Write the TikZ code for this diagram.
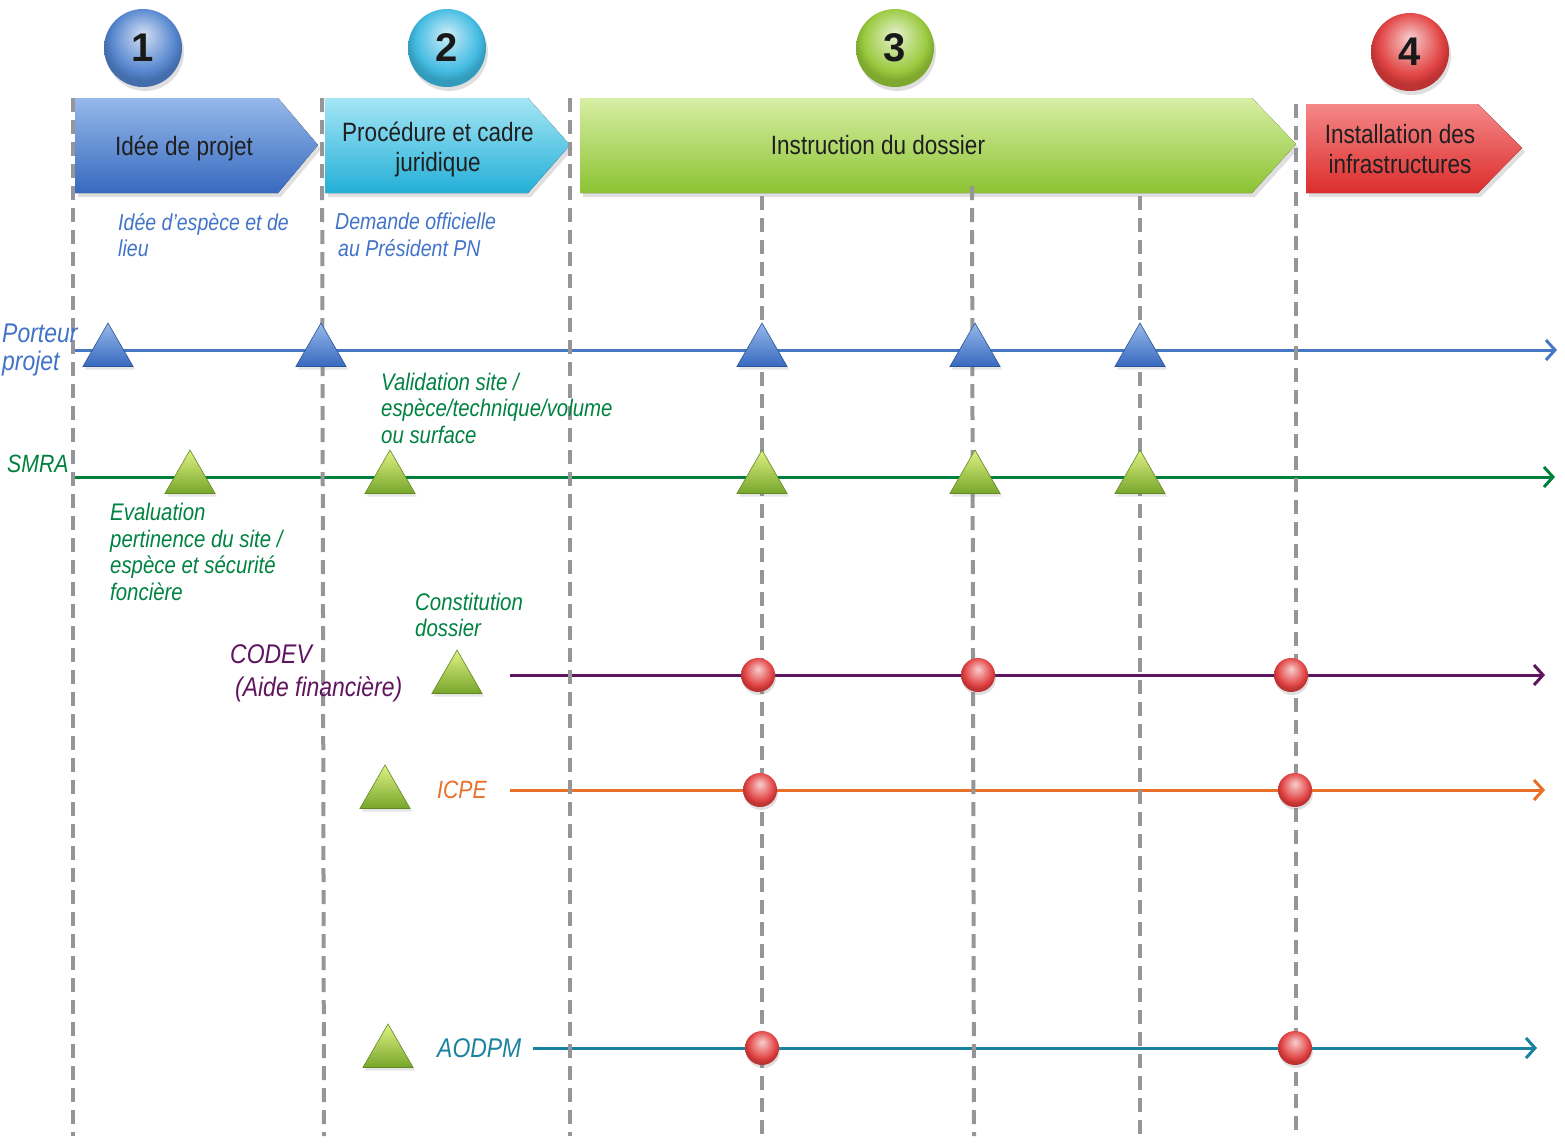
\documentclass[tikz,border=0pt]{standalone}
\usepackage{fontspec}
\setmainfont{Liberation Sans}[FakeStretch=0.85]
\newfontfamily\numfont{Liberation Sans}
\usetikzlibrary{shapes.geometric,arrows.meta,shadows}

% palette
\definecolor{phBlueT}{RGB}{150,185,235}
\definecolor{phBlueB}{RGB}{55,105,190}
\definecolor{phCyanT}{RGB}{165,230,245}
\definecolor{phCyanB}{RGB}{35,175,215}
\definecolor{phGreenT}{RGB}{215,238,165}
\definecolor{phGreenB}{RGB}{140,195,50}
\definecolor{phRedT}{RGB}{245,135,135}
\definecolor{phRedB}{RGB}{220,45,45}
\definecolor{ballBlue}{RGB}{80,130,205}
\definecolor{ballCyan}{RGB}{60,185,225}
\definecolor{ballGreen}{RGB}{150,200,55}
\definecolor{ballRed}{RGB}{225,60,60}
\definecolor{cPorteur}{RGB}{70,120,195}
\definecolor{cSmra}{RGB}{0,128,60}
\definecolor{cCodev}{RGB}{95,20,95}
\definecolor{cIcpe}{RGB}{232,112,40}
\definecolor{cAodpm}{RGB}{25,130,160}
\definecolor{cDash}{RGB}{150,150,152}
\definecolor{cTxtBlue}{RGB}{65,115,200}
\definecolor{cTxtGreen}{RGB}{0,130,65}

% glossy sphere shadings: light crown, saturated body, slightly darker rim
\newcommand\glossshading[2]{%
  \pgfdeclareradialshading{#1}{\pgfpoint{0bp}{9bp}}{%
    color(0bp)=(#2!25!white); color(10bp)=(#2!60!white); color(20bp)=(#2!95!white);
    color(25bp)=(#2!85!black); color(50bp)=(#2!70!black)}}
\glossshading{glossBlue}{ballBlue}
\glossshading{glossCyan}{ballCyan}
\glossshading{glossGreen}{ballGreen}
\glossshading{glossRed}{ballRed}

\tikzset{
  x=1pt, y=-1pt,
  phasearrow/.style={drop shadow={shadow xshift=3pt,shadow yshift=-4pt,opacity=.25}},
  phasetext/.style={font=\fontsize{26.5}{30}\selectfont, align=center, text=black!88, inner sep=0pt},
  stepball/.style={circle, minimum size=78pt, inner sep=0pt,
    font=\numfont\bfseries\fontsize{40}{40}\selectfont, text=black!90,
    drop shadow={shadow xshift=2pt,shadow yshift=-4pt,opacity=.25}},
  guide/.style={cDash, line width=4pt, dash pattern=on 14pt off 8pt},
  timeline/.style={line width=3pt, -{Straight Barb[length=9pt,width=20pt,line width=3pt]}},
  lab/.style={font=\itshape\fontsize{24}{26.5}\selectfont, align=left, inner sep=0pt, anchor=west},
  biglab/.style={font=\itshape\fontsize{27}{33}\selectfont, align=left, inner sep=0pt, anchor=west},
  tri/.style={regular polygon, regular polygon sides=3, minimum size=58pt, inner sep=0pt,
    drop shadow={shadow xshift=2pt,shadow yshift=-3pt,opacity=.2}},
  triblue/.style={tri, top color=phBlueT, bottom color=phBlueB, draw=phBlueB!80!black, line width=.6pt},
  trigreen/.style={tri, top color=phGreenT!80!yellow, bottom color=phGreenB!85!black, draw=phGreenB!70!black, line width=.6pt},
  redball/.style={circle, minimum size=34pt, inner sep=0pt, shading=glossRed,
    drop shadow={shadow xshift=1pt,shadow yshift=-3pt,opacity=.25}},
}

\begin{document}
\begin{tikzpicture}
\useasboundingbox (0,0) rectangle (1565,1146);

% phase arrows
\fill[phasearrow, top color=phBlueT, bottom color=phBlueB]
  (75,98) -- (278,98) -- (318,145) -- (278,193) -- (75,193) -- cycle;
\fill[phasearrow, top color=phCyanT, bottom color=phCyanB]
  (325,98) -- (528,98) -- (570,145) -- (528,193) -- (325,193) -- cycle;
\fill[phasearrow, top color=phGreenT, bottom color=phGreenB]
  (580,98) -- (1252,98) -- (1296,144) -- (1252,193) -- (580,193) -- cycle;
\fill[phasearrow, top color=phRedT, bottom color=phRedB]
  (1306,104) -- (1478,104) -- (1522,148) -- (1478,193) -- (1306,193) -- cycle;

\node[phasetext] (ph1) at (184,148) {Idée de projet};
\node[phasetext] (ph2) at (438,149) {Procédure et cadre\\juridique};
\node[phasetext] (ph3) at (878,145) {Instruction du dossier};
\node[phasetext] (ph4) at (1400,149) {Installation des\\infrastructures};

% step numbers
\node[stepball, shading=glossBlue] (n1) at (143,48) {1};
\node[stepball, shading=glossCyan] (n2) at (447,48) {2};
\node[stepball, shading=glossGreen] (n3) at (895,48) {3};
\node[stepball, shading=glossRed] (n4) at (1410,52) {4};

% timeline endpoints
\coordinate (p0) at (75,350);   \coordinate (p1) at (1557,350);
\coordinate (s0) at (75,477);   \coordinate (s1) at (1555,477);
\coordinate (c0) at (510,675);  \coordinate (c1) at (1545,675);
\coordinate (i0) at (510,790);  \coordinate (i1) at (1545,790);
\coordinate (a0) at (533,1048); \coordinate (a1) at (1537,1048);

\draw[timeline, cPorteur] (p0) -- (p1);
\draw[timeline, cSmra] (s0) -- (s1);
\draw[timeline, cCodev] (c0) -- (c1);
\draw[timeline, cIcpe] (i0) -- (i1);
\draw[timeline, cAodpm] (a0) -- (a1);

% phase boundaries and checkpoints
\coordinate (g1t) at (73,98);    \coordinate (g1b) at (73,1136);
\coordinate (g2t) at (322,98);   \coordinate (g2b) at (324,1136);
\coordinate (g3t) at (570,98);   \coordinate (g3b) at (570,1136);
\coordinate (g4t) at (762,196);  \coordinate (g4b) at (762,1136);
\coordinate (g5t) at (972,186);  \coordinate (g5b) at (974,1136);
\coordinate (g6t) at (1140,196); \coordinate (g6b) at (1140,1136);
\coordinate (g7t) at (1296,104); \coordinate (g7b) at (1296,1136);
\foreach \g in {1,...,7}{\draw[guide] (g\g t) -- (g\g b);}

% porteur projet milestones
\node[triblue] (tp1) at (108,352) {};
\node[triblue] (tp2) at (321,352) {};
\node[triblue] (tp3) at (762,352) {};
\node[triblue] (tp4) at (975,352) {};
\node[triblue] (tp5) at (1140,352) {};

% SMRA milestones
\node[trigreen] (ts1) at (190,479) {};
\node[trigreen] (ts2) at (390,479) {};
\node[trigreen] (ts3) at (762,479) {};
\node[trigreen] (ts4) at (975,479) {};
\node[trigreen] (ts5) at (1140,479) {};

% start markers of the other procedures
\node[trigreen] (tc) at (457,679) {};
\node[trigreen] (ti) at (385,794) {};
\node[trigreen] (ta) at (388,1053) {};

% decision points
\node[redball] (rc1) at (758,675) {};
\node[redball] (rc2) at (978,675) {};
\node[redball] (rc3) at (1291,675) {};
\node[redball] (ri1) at (760,790) {};
\node[redball] (ri2) at (1295,790) {};
\node[redball] (ra1) at (762,1048) {};
\node[redball] (ra2) at (1295,1048) {};

% actor labels
\node[lab, cTxtBlue, font=\itshape\fontsize{27}{28}\selectfont] (lp) at (2,350) {Porteur\\projet};
\node[lab, cSmra, font=\itshape\fontsize{25}{28}\selectfont] (ls) at (7,464) {SMRA};
\node[biglab, cCodev] (lc) at (230,673) {CODEV\\\hspace*{5pt}(Aide financière)};
\node[biglab, cIcpe, font=\itshape\fontsize{25}{30}\selectfont] (li) at (437,790) {ICPE};
\node[biglab, cAodpm] (la) at (437,1048) {AODPM};

% step descriptions
\node[lab, cTxtBlue, font=\itshape\fontsize{23}{26.5}\selectfont] (d1) at (118,235) {Idée d’espèce et de\\lieu};
\node[lab, cTxtBlue, font=\itshape\fontsize{23}{26.5}\selectfont] (d2) at (335,235) {Demande officielle\\\hspace*{3pt}au Président PN};
\node[lab, cTxtGreen] (d3) at (381,408) {Validation site /\\espèce/technique/volume\\ou surface};
\node[lab, cTxtGreen] (d4) at (110,552) {Evaluation\\pertinence du site /\\espèce et sécurité\\foncière};
\node[lab, cTxtGreen] (d5) at (415,615) {Constitution\\dossier};
\end{tikzpicture}
\end{document}
